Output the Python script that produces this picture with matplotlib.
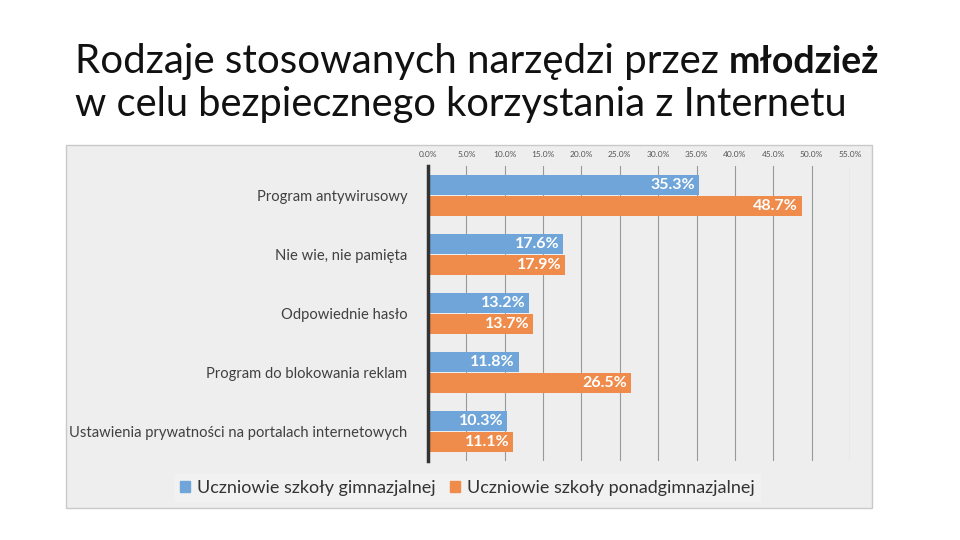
import numpy as np
import matplotlib
matplotlib.use("Agg")
from matplotlib import pyplot as plt
from matplotlib.patches import Rectangle, Patch

plt.rcParams['font.family'] = ['Lato', 'DejaVu Sans']

# data
categories = ["Program antywirusowy", "Nie wie, nie pamięta", "Odpowiednie hasło",
              "Program do blokowania reklam",
              "Ustawienia prywatności na portalach internetowych"]
gimnazjum = [35.3, 17.6, 13.2, 11.8, 10.3]
ponadgimnazjum = [48.7, 17.9, 13.7, 26.5, 11.1]
series_names = ["Uczniowie szkoły gimnazjalnej", "Uczniowie szkoły ponadgimnazjalnej"]
ticks = np.arange(0, 56, 5)

blue = "#6fa5d9"
orange = "#ef8b4b"
txt = "#404040"

fig = plt.figure(figsize=(9.6, 5.4), dpi=100)

# chart frame (behind the axes)
fig.patches.append(Rectangle((66 / 960, 1 - 508 / 540), 806 / 960, 363 / 540,
                             transform=fig.transFigure, facecolor="#eeeeee",
                             edgecolor="#c9c9c9", linewidth=1, zorder=-5))

ax = fig.add_axes([428 / 960, 1 - 461 / 540, 422 / 960, 295 / 540])
ax.set_facecolor("none")

y = np.arange(len(categories))
h = 0.34
off = 0.185
b1 = ax.barh(y - off, gimnazjum, height=h, color=blue, zorder=3)
b2 = ax.barh(y + off, ponadgimnazjum, height=h, color=orange, zorder=3)

for bars, vals in ((b1, gimnazjum), (b2, ponadgimnazjum)):
    for bar, v in zip(bars, vals):
        ax.text(v - 0.5, bar.get_y() + bar.get_height() / 2, f"{v:.1f}%",
                ha="right", va="center", color="white", fontsize=11.5,
                fontweight="bold", zorder=4)

ax.set_xlim(0, 55)
ax.set_ylim(4.5, -0.5)
ax.set_xticks(ticks)
ax.set_xticklabels([f"{t:.1f}%" for t in ticks], fontsize=6, color="#555555")
ax.xaxis.tick_top()
ax.tick_params(axis="x", length=0, pad=6)
ax.set_yticks(y)
ax.set_yticklabels(categories, fontsize=10.6, color=txt)
ax.tick_params(axis="y", length=0, pad=15)
ax.grid(axis="x", color="#999999", linewidth=0.8, zorder=1)
for s in ("top", "right", "bottom"):
    ax.spines[s].set_visible(False)
ax.spines["left"].set_color("#333333")
ax.spines["left"].set_linewidth(2.5)
ax.spines["left"].set_zorder(5)

handles = [Patch(color=blue), Patch(color=orange)]
fig.legend(handles, series_names, loc="center", bbox_to_anchor=(0.487, 0.096),
           ncol=2, frameon=True, facecolor="#f3f3f3", edgecolor="none",
           fontsize=13, labelcolor="#333333", handlelength=0.55, handleheight=0.55,
           handletextpad=0.4, columnspacing=0.8, borderpad=0.35, fancybox=False)

# title
t1 = fig.text(75 / 960, 1 - 73 / 540, "Rodzaje stosowanych narzędzi przez ",
              fontsize=29, fontweight="normal", color="#111111", va="baseline")
fig.canvas.draw()
bb = t1.get_window_extent()
fig.text(bb.x1 / 960, 1 - 73 / 540, "młodzież", fontsize=27, fontweight="bold",
         color="#111111", va="baseline")
fig.text(75 / 960, 1 - 116 / 540, "w celu bezpiecznego korzystania z Internetu",
         fontsize=28.7, fontweight="normal", color="#111111", va="baseline")

fig.savefig("out.png", dpi=100)
